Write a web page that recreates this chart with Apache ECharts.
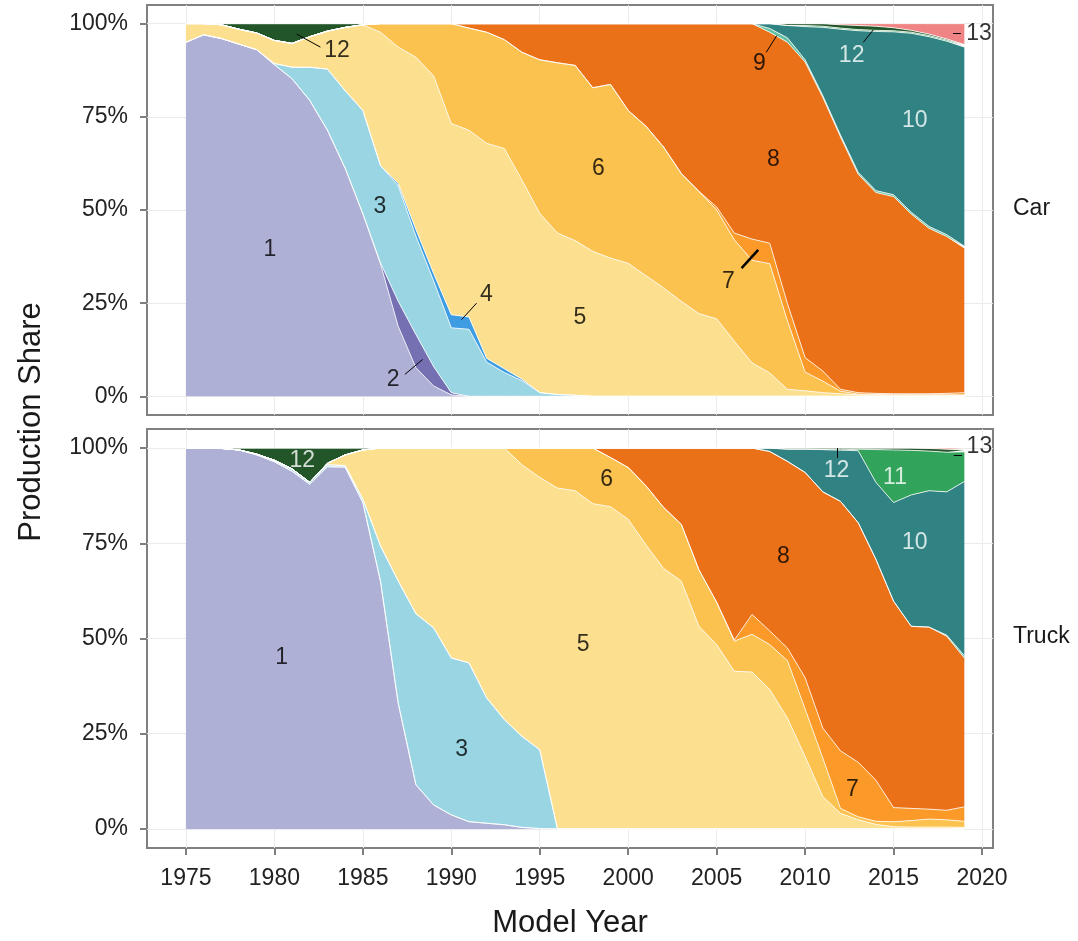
<!DOCTYPE html>
<html><head><meta charset="utf-8">
<script src="https://cdn.jsdelivr.net/npm/echarts@6/dist/echarts.min.js"></script>
<style>html,body{margin:0;padding:0;background:#fff}#c{width:1078px;height:941px}</style>
</head><body><div id="c"></div>
<script>
// ---------- DATA (production share, %) ----------
const years = [1975,1976,1977,1978,1979,1980,1981,1982,1983,1984,1985,1986,1987,1988,1989,1990,1991,1992,1993,1994,1995,1996,1997,1998,1999,2000,2001,2002,2003,2004,2005,2006,2007,2008,2009,2010,2011,2012,2013,2014,2015,2016,2017,2018,2019];
const seriesNames = ['1','2','3','4','5','6','7','8','9','10','11','12','13'];
const panelNames = ['Car','Truck'];
const xTicks = [1975,1980,1985,1990,1995,2000,2005,2010,2015,2020];
const yTicks = [0,25,50,75,100];

// Car
const car1 = [95,97,96,94.5,93,89,85.2,79.4,71.4,61.2,49,35.5,18.8,7.7,2.8,0.4,0,0,0,0,0,0,0,0,0,0,0,0,0,0,0,0,0,0,0,0,0,0,0,0,0,0,0,0,0];
const car2 = [0,0,0,0,0,0,0,0,0,0,0,0.3,6.7,8.9,5.2,0.6,0,0,0,0,0,0,0,0,0,0,0,0,0,0,0,0,0,0,0,0,0,0,0,0,0,0,0,0,0];
const car3 = [0,0,0,0,0,0.3,3.1,8.9,16.4,20.8,27.7,26.1,31,26.4,23,17.4,18,9.2,6.4,4.2,1,0.5,0.3,0,0,0,0,0,0,0,0,0,0,0,0,0,0,0,0,0,0,0,0,0,0];
const car4 = [0,0,0,0,0,0,0,0,0,0,0,0,0.6,1.8,2,3.5,3.3,1,1,0.4,0,0,0,0,0,0,0,0,0,0,0,0,0,0,0,0,0,0,0,0,0,0,0,0,0];
const car5 = [5,3,3.7,4,4.5,6.2,6.4,8.2,10.2,17,23,35.8,36.6,46.2,53,51.3,50.1,57.7,59.1,53.4,48.1,43.3,41.5,38.9,37.1,35.7,32.4,29.1,25.5,22.2,20.8,14.8,9,6.3,1.9,1.5,1,0.7,0.4,0.3,0.3,0.3,0.3,0.3,0.2];
const car6 = [0,0,0,0,0,0,0,0,0,0,0,2.3,6.3,9,14,26.8,27.4,29.8,29.2,34.3,41.2,45.7,47,43.9,46.6,41,40.1,37.8,34.3,32.8,29.2,27.2,27.5,29.3,18.4,5,3.1,0.7,0.2,0.2,0.1,0.1,0.1,0.1,0.2];
const car7 = [0,0,0,0,0,0,0,0,0,0,0,0,0,0,0,0,0,0,0,0,0,0,0,0,0,0,0,0,0,0,0.8,1.8,5.7,5.5,4.6,3.9,2.7,0.5,0.4,0.3,0.3,0.3,0.3,0.4,0.6];
const car8 = [0,0,0,0,0,0,0,0,0,0,0,0,0,0,0,0,1.2,2.3,4.3,7.7,9.7,10.5,11.2,17.2,16.3,23.3,27.5,33.1,40.2,45,49.2,56.2,57.8,56.6,70.1,79.3,73.4,67.7,58.6,53.9,52.9,48.2,44.4,42.1,38.8];
const car9 = [0,0,0,0,0,0,0,0,0,0,0,0,0,0,0,0,0,0,0,0,0,0,0,0,0,0,0,0,0,0,0,0,0,1,1.2,0.6,0.5,0.5,0.5,0.5,0.5,0.5,0.5,0.5,0.5];
const car10 = [0,0,0,0,0,0,0,0,0,0,0,0,0,0,0,0,0,0,0,0,0,0,0,0,0,0,0,0,0,0,0,0,0,1.3,3.3,8.9,18.3,28.4,38,42.7,43.7,48,50.9,51.9,53.4];
const car11 = [0,0,0,0,0,0,0,0,0,0,0,0,0,0,0,0,0,0,0,0,0,0,0,0,0,0,0,0,0,0,0,0,0,0,0,0.3,0.3,0.3,0.3,0.3,0.3,0.3,0.3,0.3,0.4];
const car12 = [0,0,0.3,1.5,2.5,4.5,5.3,3.5,2,1,0.3,0,0,0,0,0,0,0,0,0,0,0,0,0,0,0,0,0,0,0,0,0,0,0,0.5,0.5,0.7,0.9,1.1,1.1,0.8,0.5,0.4,0.3,0.3];
const car13 = [0,0,0,0,0,0,0,0,0,0,0,0,0,0,0,0,0,0,0,0,0,0,0,0,0,0,0,0,0,0,0,0,0,0,0,0,0,0.3,0.5,0.7,1.1,1.8,2.8,4.1,5.6];

// Truck
const truck1 = [100,100,99.9,99.5,98.2,96.4,93.9,90.5,95.1,95,85.7,65,33,11.6,6.3,3.7,1.9,1.5,1.1,0.4,0.1,0,0,0,0,0,0,0,0,0,0,0,0,0,0,0,0,0,0,0,0,0,0,0,0];
const truck2 = [0,0,0,0,0,0,0,0,0,0,0,0,0,0,0,0,0,0,0,0,0,0,0,0,0,0,0,0,0,0,0,0,0,0,0,0,0,0,0,0,0,0,0,0,0];
const truck3 = [0,0,0,0,0.2,0.4,0.6,0.5,0.5,0.4,0.9,9.3,32.1,44.9,46.5,41.2,41.7,32.9,27.6,23.9,20.7,0,0,0,0,0,0,0,0,0,0,0,0,0,0,0,0,0,0,0,0,0,0,0,0];
const truck4 = [0,0,0,0,0,0,0,0,0,0,0,0,0,0,0,0,0,0,0,0,0,0,0,0,0,0,0,0,0,0,0,0,0,0,0,0,0,0,0,0,0,0,0,0,0];
const truck5 = [0,0,0,0,0,0,0,0,0.4,2.8,12.9,25.7,34.9,43.5,47.2,55.1,56.4,65.6,71.3,71.3,71.5,89.5,88.8,85.4,84.6,81.3,74.6,68.4,65.1,53.2,48.4,41.4,41.2,36.6,29.1,19,8.5,4.1,2.4,1.2,0.6,0.5,0.5,0.5,0.4];
const truck6 = [0,0,0,0,0,0,0,0,0,0,0,0,0,0,0,0,0,0,0,4.4,7.7,10.5,11.2,14.6,12.9,13.6,15.5,16,14.9,14.8,11.1,7.9,9.9,11.8,15.1,12.5,10.1,1.3,0.8,0.8,1.3,1.7,2.1,1.9,1.6];
const truck7 = [0,0,0,0,0,0,0,0,0,0,0,0,0,0,0,0,0,0,0,0,0,0,0,0,0,0,0,0,0,0,0,0.3,5.2,3.6,3.3,8.2,7.9,15.1,14.3,10.8,3.7,3.2,2.6,2.5,3.8];
const truck8 = [0,0,0,0,0,0,0,0,0,0,0,0,0,0,0,0,0,0,0,0,0,0,0,0,2.5,5.1,9.9,15.6,20,32,40.5,50.4,43.7,47.1,49,53.9,62,65.5,62.9,58,54.2,47.8,47.8,45.7,39.1];
const truck9 = [0,0,0,0,0,0,0,0,0,0,0,0,0,0,0,0,0,0,0,0,0,0,0,0,0,0,0,0,0,0,0,0,0,0,0,0,0,0,0,0,0,0,0,0.3,0.6];
const truck10 = [0,0,0,0,0,0,0,0,0,0,0,0,0,0,0,0,0,0,0,0,0,0,0,0,0,0,0,0,0,0,0,0,0,0.9,3.2,6.1,11.1,13.5,18.9,20.2,25.9,34.5,35.8,37.6,45.7];
const truck11 = [0,0,0,0,0,0,0,0,0,0,0,0,0,0,0,0,0,0,0,0,0,0,0,0,0,0,0,0,0,0,0,0,0,0,0,0,0,0,0.4,8.6,13.8,11.7,10.4,10.4,7.8];
const truck12 = [0,0,0.1,0.5,1.6,3.2,5.5,9,4,1.8,0.5,0,0,0,0,0,0,0,0,0,0,0,0,0,0,0,0,0,0,0,0,0,0,0,0.3,0.3,0.4,0.5,0.3,0.4,0.5,0.6,0.7,0.8,0.5];
const truck13 = [0,0,0,0,0,0,0,0,0,0,0,0,0,0,0,0,0,0,0,0,0,0,0,0,0,0,0,0,0,0,0,0,0,0,0,0,0,0,0,0,0,0,0.1,0.3,0.5];

// Annotation labels: [year, share, text]
const carLabels = [[1979.75,39.3,'1'],[1986.72,4.5,'2'],[1985.97,50.9,'3'],[1991.99,27.3,'4'],[1997.27,21,'5'],[1998.31,61.1,'6'],[2005.66,30.8,'7'],[2008.2,63.5,'8'],[2007.41,89.2,'9'],[2016.2,74.1,'10'],[2012.63,91.4,'12'],[1983.54,92.8,'12'],[2019.83,97.3,'13']];
const carWhite = ['10'];
const carWhiteAt = [2012.63]; // the right-hand "12" is white
const truckLabels = [[1980.41,44.9,'1'],[1990.58,20.8,'3'],[1997.46,48.4,'5'],[1998.78,91.6,'6'],[2012.67,10.3,'7'],[2008.77,71.4,'8'],[2016.2,75.2,'10'],[2015.08,92.3,'11'],[1981.58,96.7,'12'],[2011.78,94,'12'],[2019.85,100.3,'13']];
const truckWhite = ['10','11','12'];
// Leader segments: [year1, share1, year2, share2]
const carLeaders = [[1987.38,5.9,1988.38,9.9],[1990.58,20.6,1991.43,25],[2006.41,34.4,2007.35,39.3],[2007.8,92.3,2008.4,96.8],[2013.29,95.0,2013.85,98.3],[1981.26,97.2,1982.6,93.7],[2018.36,97.3,2018.8,97.3]];
const truckLeaders = [[2011.82,100,2011.82,97.4],[2018.4,98.2,2018.87,98.2]];

// ---------- STYLE ----------
const FONT = '"Liberation Sans", Arial, Helvetica, sans-serif';
const colors = ['#afb0d6','#7470b2','#9ad5e3','#3d9ce2','#fce08f','#fcc24f','#fb9a29','#eb7118','#66c2a4','#318383','#31a35b','#225629','#f08383'];
const carData = [car1,car2,car3,car4,car5,car6,car7,car8,car9,car10,car11,car12,car13];
const truckData = [truck1,truck2,truck3,truck4,truck5,truck6,truck7,truck8,truck9,truck10,truck11,truck12,truck13];

// share is put in the first column so that ECharts stacks the share (y) dimension
function areaSeries(panelData, idx) {
  return panelData.map((arr, k) => ({
    type: 'line', name: seriesNames[k], xAxisIndex: idx, yAxisIndex: idx,
    stack: panelNames[idx],
    data: years.map((y, i) => [arr[i], y]),
    encode: { x: 1, y: 0 },
    symbol: 'none', showSymbol: false, smooth: false,
    lineStyle: { color: '#ffffff', width: 0.8 },
    areaStyle: { color: colors[k], opacity: 1 },
    itemStyle: { color: colors[k] },
    emphasis: { disabled: true }, silent: true, z: 2
  }));
}
function labelSeries(labels, idx, isWhite) {
  return {
    type: 'scatter', xAxisIndex: idx, yAxisIndex: idx, symbolSize: 0, clip: false, silent: true, z: 10,
    data: labels.map(l => ({ value: [l[0], l[1]], name: l[2],
      label: { color: isWhite(l) ? '#ffffff' : '#000000', textBorderWidth: 0 } })),
    label: { show: true, position: 'inside', formatter: p => p.name, fontSize: 23, fontFamily: FONT, color: '#000000', textBorderWidth: 0 }
  };
}
function leaderSeries(segs, idx, thick) {
  return {
    type: 'lines', coordinateSystem: 'cartesian2d', xAxisIndex: idx, yAxisIndex: idx, silent: true, z: 11,
    data: segs.map((s, i) => ({ coords: [[s[0], s[1]], [s[2], s[3]]], lineStyle: { width: thick.includes(i) ? 2.5 : 1 } })),
    lineStyle: { color: '#000000', width: 1, opacity: 1 }
  };
}

const gridLine = { show: true, lineStyle: { color: '#ebebeb', width: 1 } };
const tickStyle = { color: '#7f7f7f', width: 2 };
const labelStyle = { fontSize: 23, color: '#222222', fontFamily: FONT };

function xAx(idx, showLabels) {
  return {
    gridIndex: idx, type: 'value', min: 1972.8, max: 2020.62,
    axisLine: { show: false, onZero: false },
    axisTick: { show: showLabels, customValues: xTicks, length: 7, lineStyle: tickStyle },
    axisLabel: Object.assign({ show: showLabels, customValues: xTicks, margin: 19, formatter: v => String(v) }, labelStyle),
    splitLine: gridLine
  };
}
function yAx(idx) {
  return {
    gridIndex: idx, type: 'value', min: -5, max: 105,
    axisLine: { show: false, onZero: false },
    axisTick: { show: true, customValues: yTicks, length: 7, lineStyle: tickStyle },
    axisLabel: Object.assign({ show: true, customValues: yTicks, margin: 19, formatter: v => v + '%' }, labelStyle),
    splitLine: gridLine
  };
}

const chart = echarts.init(document.getElementById('c'), null, { renderer: 'canvas' });
chart.setOption({
  animation: false,
  backgroundColor: '#ffffff',
  grid: [
    { left: 147, top: 5, width: 846, height: 410, show: true, borderColor: '#808080', borderWidth: 2, backgroundColor: 'transparent' },
    { left: 147, top: 429, width: 846, height: 419, show: true, borderColor: '#808080', borderWidth: 2, backgroundColor: 'transparent' }
  ],
  xAxis: [xAx(0, false), xAx(1, true)],
  yAxis: [yAx(0), yAx(1)],
  series: [].concat(
    areaSeries(carData, 0),
    areaSeries(truckData, 1),
    [labelSeries(carLabels, 0, l => carWhite.includes(l[2]) || carWhiteAt.includes(l[0])),
     labelSeries(truckLabels, 1, l => truckWhite.includes(l[2])),
     leaderSeries(carLeaders, 0, [2]),
     leaderSeries(truckLeaders, 1, [])]
  ),
  graphic: [
    { type: 'text', x: 1013, y: 209, silent: true, style: { text: panelNames[0], font: '23px ' + FONT, fill: '#1a1a1a', align: 'left', verticalAlign: 'middle' } },
    { type: 'text', x: 1013, y: 637, silent: true, style: { text: panelNames[1], font: '23px ' + FONT, fill: '#1a1a1a', align: 'left', verticalAlign: 'middle' } },
    { type: 'text', x: 570, y: 923, silent: true, style: { text: 'Model Year', font: '31px ' + FONT, fill: '#1a1a1a', align: 'center', verticalAlign: 'middle' } },
    { type: 'text', x: 31, y: 422, rotation: Math.PI / 2, silent: true, style: { text: 'Production Share', font: '31px ' + FONT, fill: '#1a1a1a', align: 'center', verticalAlign: 'middle' } }
  ]
});
</script>
</body></html>
